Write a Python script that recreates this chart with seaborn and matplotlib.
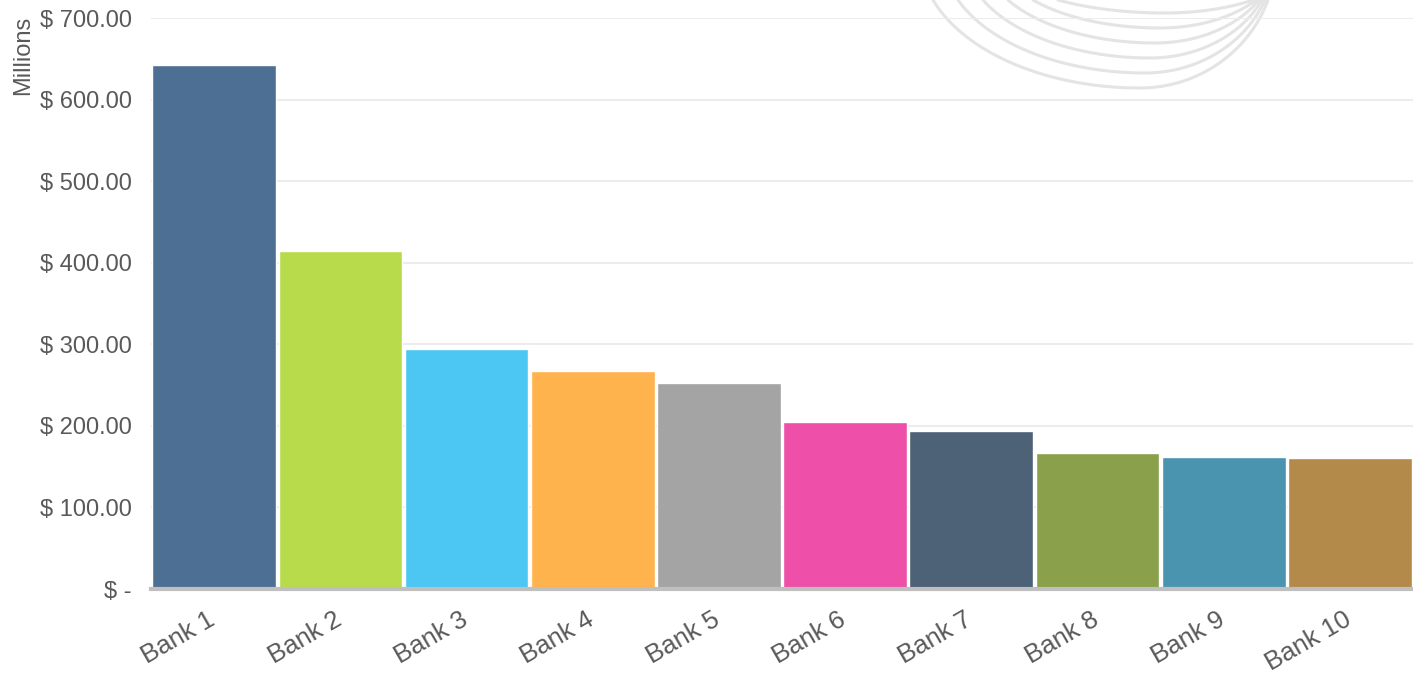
import numpy as np
import pandas as pd
import matplotlib
matplotlib.use("Agg")
import matplotlib.pyplot as plt
import matplotlib.transforms as mtrans
from matplotlib.lines import Line2D
from matplotlib.ticker import FuncFormatter
import seaborn as sns

banks = ["Bank 1", "Bank 2", "Bank 3", "Bank 4", "Bank 5",
         "Bank 6", "Bank 7", "Bank 8", "Bank 9", "Bank 10"]
values = [642, 414, 294, 267, 252.5, 205, 194, 167, 162, 160.5]
colors = ["#4E6F94", "#B8DB4C", "#4CC6F2", "#FFB34D", "#A4A4A4",
          "#EE4FA8", "#4D6177", "#8AA04B", "#4A94B0", "#B48A4B"]
yticks = [0, 100, 200, 300, 400, 500, 600, 700]

df = pd.DataFrame({"bank": banks, "value": values})

sns.set_style("white")
plt.rcParams["font.family"] = ["Liberation Sans", "DejaVu Sans"]

fig = plt.figure(figsize=(14.13, 6.75), dpi=100)
ax = fig.add_axes([0.1069, 0.1274, 0.8931, 0.8459])

# decorative arcs in the top right corner (background watermark), pixel coords
cy = -45
for i in range(6):
    bottom = 88 - 15 * i
    left, right = 933 + 25 * i, 1268 - 3 * i
    cx = 1140 + 5 * i
    k = np.sqrt(1 - (cy / (bottom - cy)) ** 2)
    aL, aR = (cx - left) / k, (right - cx) / k
    xs = np.linspace(left, right, 300)
    a = np.where(xs < cx, aL, aR)
    ys = cy + (bottom - cy) * np.sqrt(np.clip(1 - ((xs - cx) / a) ** 2, 0, 1))
    fig.add_artist(Line2D(xs, 675 - ys, transform=None, color="#e4e4e4",
                          lw=2.2, zorder=0))

ax.set_facecolor("none")
sns.barplot(data=df, x="bank", y="value", hue="bank", palette=colors,
            width=0.98, saturation=1, legend=False, ax=ax, zorder=2)

ax.set_ylim(0, 700)
ax.set_xlim(-0.5, 9.5)
ax.set_yticks(yticks)
ax.yaxis.set_major_formatter(FuncFormatter(
    lambda v, p: "$ -" if v == 0 else f"$ {v:,.2f}"))
ax.grid(axis="y", color="#ececec", lw=1.5, zorder=0)
ax.set_axisbelow(True)

for s in ["top", "right", "left"]:
    ax.spines[s].set_visible(False)
ax.spines["bottom"].set_color("#bfbfbf")
ax.spines["bottom"].set_linewidth(3)
ax.spines["bottom"].set_zorder(3)

ax.tick_params(axis="y", length=0, pad=14, labelsize=17, labelcolor="#595959")
ax.tick_params(axis="x", length=0, pad=13, labelsize=18.5, labelcolor="#595959")
shift = mtrans.ScaledTranslation(-7 / 100, 0, fig.dpi_scale_trans)
for lab in ax.get_xticklabels():
    lab.set_rotation(30)
    lab.set_ha("right")
    lab.set_rotation_mode("anchor")
    lab.set_transform(lab.get_transform() + shift)

ax.set_xlabel("")
ax.set_ylabel("Millions", fontsize=17, color="#595959")
ax.yaxis.set_label_coords(-0.093, 0.935)

fig.savefig("out.png", dpi=100)
